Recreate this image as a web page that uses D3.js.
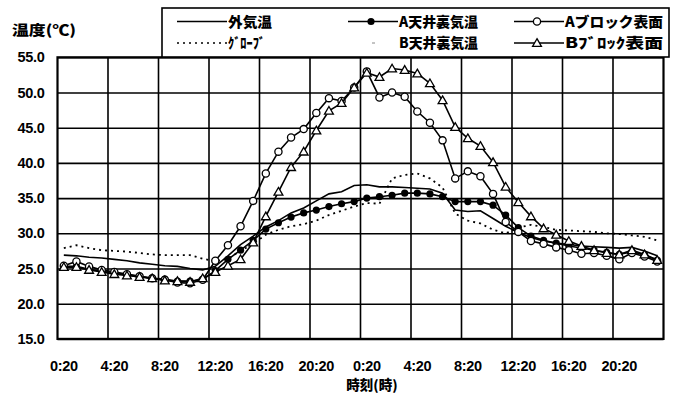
<!DOCTYPE html>
<html><head><meta charset="utf-8">
<script src="https://cdn.jsdelivr.net/npm/d3@7"></script>
<style>
html,body{margin:0;padding:0;background:#fff;}
svg{display:block;}
</style></head>
<body><svg id="c" width="674" height="393"></svg>
<script>
// ---- data ----
const categories = [];
for (let d = 0; d < 2; d++) for (let h = 0; h < 24; h++) categories.push(h + ":20");
const tickLabels = ["0:20","4:20","8:20","12:20","16:20","20:20","0:20","4:20","8:20","12:20","16:20","20:20"];
const yTicks = [15,20,25,30,35,40,45,50,55];

const outsideTemp = [26.9,26.8,26.6,26.5,26.3,26.1,25.8,25.6,25.4,25.3,25.0,24.8,
  25.3,26.8,28.4,29.6,30.9,31.8,32.9,33.6,34.6,35.6,35.9,36.8,
  36.9,36.6,36.6,36.5,36.4,36.3,35.7,33.3,33.1,33.2,32.1,31.0,
  30.1,29.4,28.9,28.6,28.4,28.2,28.1,28.0,27.9,28.0,27.5,26.8];
const aCeilingTemp = [25.3,25.3,24.9,24.6,24.4,24.1,23.9,23.6,23.5,23.2,23.2,23.4,
  24.7,26.3,27.6,29.0,30.6,31.5,32.3,32.9,33.3,33.8,34.2,34.5,
  35.0,35.2,35.4,35.7,35.7,35.6,35.2,34.5,34.5,34.5,34.0,32.6,
  30.8,29.6,29.0,28.6,28.2,27.9,27.6,27.3,27.0,27.4,26.9,26.2];
const aBlockSurface = [25.4,26.0,25.3,24.8,24.5,24.2,23.9,23.6,23.4,23.0,22.9,23.4,
  26.1,28.3,31.0,34.6,38.5,41.6,43.6,44.8,47.1,49.2,48.8,50.7,
  53.0,49.3,50.0,49.4,47.3,45.7,43.2,37.8,38.8,38.1,35.6,31.6,
  30.2,28.9,28.5,28.0,27.6,27.1,27.2,26.8,26.3,27.2,26.7,26.0];
const globeTemp = [27.9,28.3,27.9,27.6,27.5,27.4,27.2,27.0,26.9,26.9,26.9,26.4,
  26.0,26.4,27.5,28.5,29.8,30.5,31.0,31.3,31.8,32.6,33.2,33.8,
  34.3,34.2,37.8,38.3,38.5,37.8,36.5,32.8,31.8,31.4,30.5,30.0,
  30.8,31.2,30.9,30.5,30.4,30.3,30.2,30.0,29.9,29.7,29.5,29.0];
const bBlockSurface = [25.2,25.2,24.8,24.5,24.2,24.0,23.8,23.6,23.3,23.2,23.1,23.6,
  24.5,25.4,26.3,28.7,32.4,35.9,39.4,41.6,44.6,47.4,48.5,50.7,
  52.8,52.2,53.4,53.2,52.7,51.3,48.9,45.1,43.5,42.4,40.1,36.6,
  34.4,32.4,30.7,29.8,28.9,28.2,27.6,27.2,27.0,27.6,27.0,26.2];

// ---- chart ----
const svg = d3.select("#c");
const L = 57.5, R = 663.5, T = 57.3, B = 338.9;
const x = d3.scaleBand().domain(d3.range(categories.length)).range([L, R]).paddingInner(0).paddingOuter(0);
const cx = i => x(i) + x.bandwidth() / 2;
const y = d3.scaleLinear().domain([15, 55]).range([B, T]);

const numFont = "'Liberation Sans', Arial, sans-serif";
const jpFont = "'Noto Sans CJK JP', sans-serif";

// horizontal gridlines + y labels
const yAxis = svg.append("g").attr("transform", `translate(${L},0)`)
  .call(d3.axisLeft(y).tickValues(yTicks).tickFormat(d3.format(".1f")).tickSize(-(R - L)).tickPadding(13));
yAxis.select(".domain").remove();
yAxis.selectAll(".tick line").attr("stroke", "#000").attr("stroke-width", 1.6);
yAxis.selectAll(".tick text").attr("font-family", numFont).attr("font-weight", "bold")
  .attr("font-size", 14.5).attr("fill", "#000").attr("letter-spacing", -0.3);

// vertical gridlines at every 4th category boundary
const vIdx = d3.range(4, categories.length, 4);
svg.append("g").selectAll("line").data(vIdx).join("line")
  .attr("x1", d => x(d)).attr("x2", d => x(d)).attr("y1", T).attr("y2", B)
  .attr("stroke", "#000").attr("stroke-width", 1.6);

// x labels
const xAxis = svg.append("g").attr("transform", `translate(0,${B})`)
  .call(d3.axisBottom(x).tickValues(d3.range(0, categories.length, 4))
    .tickFormat((d, k) => tickLabels[k]).tickSize(0).tickPadding(22));
xAxis.select(".domain").remove();
xAxis.selectAll(".tick text").attr("font-family", numFont).attr("font-weight", "bold")
  .attr("font-size", 14.5).attr("fill", "#000").attr("letter-spacing", -0.3);

// plot border
svg.append("rect").attr("x", L).attr("y", T).attr("width", R - L).attr("height", B - T)
  .attr("fill", "none").attr("stroke", "#000").attr("stroke-width", 2.2);

// series
const series = [
  {name: "外気温", values: outsideTemp, dash: null, marker: null},
  {name: "ｸﾞﾛｰﾌﾞ", values: globeTemp, dash: "2,4", marker: null},
  {name: "A天井裏気温", values: aCeilingTemp, dash: null, marker: "filled"},
  {name: "Aブロック表面", values: aBlockSurface, dash: null, marker: "circle"},
  {name: "Bﾌﾞﾛｯｸ表面", values: bBlockSurface, dash: null, marker: "triangle"}
];
const line = d3.line().x((d, i) => cx(i)).y(d => y(d));
const tri = d3.symbol().type(d3.symbolTriangle).size(34);

function drawMarker(g, type, px, py) {
  if (type === "filled") {
    g.append("circle").attr("cx", px).attr("cy", py).attr("r", 3.6).attr("fill", "#000");
  } else if (type === "circle") {
    g.append("circle").attr("cx", px).attr("cy", py).attr("r", 3.6)
      .attr("fill", "#fff").attr("stroke", "#000").attr("stroke-width", 1.3);
  } else if (type === "triangle") {
    g.append("path").attr("d", tri).attr("transform", `translate(${px},${py + 0.8})`)
      .attr("fill", "#fff").attr("stroke", "#000").attr("stroke-width", 1.3);
  }
}

series.forEach(s => {
  const g = svg.append("g");
  g.append("path").datum(s.values).attr("d", line).attr("fill", "none")
    .attr("stroke", "#000").attr("stroke-width", s.dash ? 1.8 : 1.6)
    .attr("stroke-dasharray", s.dash);
  if (s.marker) s.values.forEach((v, i) => drawMarker(g, s.marker, cx(i), y(v)));
});

// legend
const lg = svg.append("g");
lg.append("rect").attr("x", 162).attr("y", 8).attr("width", 507).attr("height", 49)
  .attr("fill", "#fff").attr("stroke", "#000").attr("stroke-width", 1.6);
const legendItems = [
  {s: series[0], x: 177, y: 21.5, tw: 44},
  {s: series[2], x: 348, y: 21.5, tw: 79},
  {s: series[3], x: 514, y: 21.5, tw: 98},
  {s: series[1], x: 177, y: 43, tw: 37},
  {s: {name: "B天井裏気温", dash: null, marker: null, faint: true}, x: 348, y: 43, tw: 79},
  {s: series[4], x: 514, y: 43, tw: 98}
];
legendItems.forEach(it => {
  const s = it.s, len = 50;
  if (s.faint) {
    lg.append("line").attr("x1", it.x + 24).attr("x2", it.x + 27).attr("y1", it.y).attr("y2", it.y)
      .attr("stroke", "#888").attr("stroke-width", 1);
  } else {
    lg.append("line").attr("x1", it.x).attr("x2", it.x + len).attr("y1", it.y).attr("y2", it.y)
      .attr("stroke", "#000").attr("stroke-width", 1.6).attr("stroke-dasharray", s.dash);
    if (s.marker) drawMarker(lg, s.marker, it.x + len / 2 - 2, it.y);
  }
  lg.append("text").attr("x", it.x + len + 1).attr("y", it.y).attr("dy", "0.36em")
    .attr("font-family", jpFont).attr("font-weight", 900).attr("font-size", 14)
    .attr("textLength", it.tw).attr("lengthAdjust", "spacingAndGlyphs")
    .attr("fill", "#000").text(s.name);
});

// axis titles
svg.append("text").attr("x", 12).attr("y", 30).attr("dy", "0.36em")
  .attr("font-family", jpFont).attr("font-weight", 900).attr("font-size", 14)
  .attr("textLength", 64).attr("lengthAdjust", "spacingAndGlyphs").text("温度(℃)");
svg.append("text").attr("x", 372).attr("y", 385.5).attr("dy", "0.36em").attr("text-anchor", "middle")
  .attr("font-family", jpFont).attr("font-weight", 900).attr("font-size", 13.5).text("時刻(時)");
</script></body></html>
